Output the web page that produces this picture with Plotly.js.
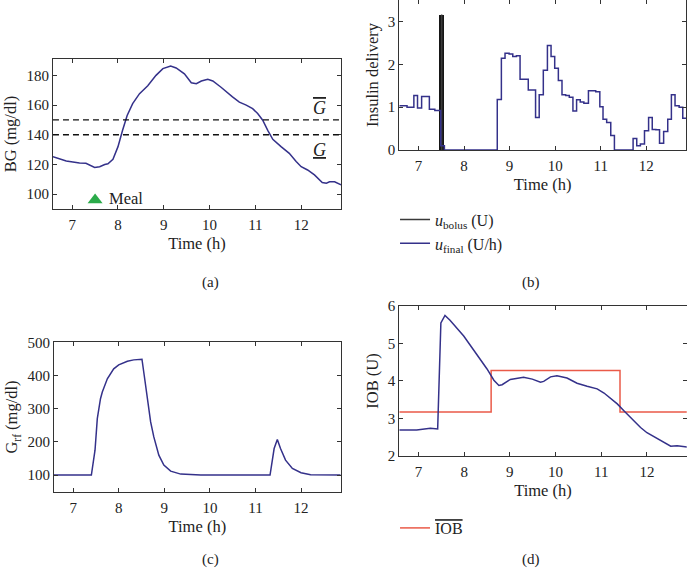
<!DOCTYPE html>
<html>
<head>
<meta charset="utf-8">
<script src="https://cdn.plot.ly/plotly-3.0.1.min.js"></script>
<style>
  body { margin: 0; background: #fff; }
  #plot { width: 687px; height: 568px; }
</style>
</head>
<body>
<div id="plot"></div>
<script>
// (a) blood glucose
var bg_time = [6.58, 6.87, 7.16, 7.3, 7.49, 7.6, 7.71, 7.78, 7.89, 8.0, 8.1, 8.2, 8.32, 8.47, 8.65, 8.83, 8.98, 9.15, 9.27, 9.45, 9.6, 9.71, 9.82, 9.96, 10.07, 10.25, 10.5, 10.65, 10.8, 10.94, 11.05, 11.16, 11.27, 11.38, 11.56, 11.74, 11.89, 12.0, 12.14, 12.29, 12.46, 12.55, 12.62, 12.73, 12.87];
var bg_value = [125.3, 122.3, 121, 120.8, 118, 118.5, 120, 120.5, 123.5, 132, 143, 153, 161, 167.7, 173, 180, 184.5, 186.3, 185, 181, 175, 174.4, 176.2, 177.3, 176.2, 172, 165.5, 162, 160, 157.6, 154.3, 149.8, 143, 136.9, 132, 127.5, 122, 118.5, 116.3, 113, 107.8, 107.4, 108.3, 108.3, 106.3];
var bg_upper = 150;
var bg_lower = 140;
var meal_time = [7.5];
var meal_marker = [96];

// (b) insulin delivery
var bolus_time = [7.51];
var bolus_amount = [3.16];
var ufinal_time = [6.58, 6.75, 6.9, 6.98, 7.07, 7.24, 7.36, 7.49, 7.57, 8.73, 8.82, 8.9, 8.99, 9.07, 9.15, 9.23, 9.41, 9.57, 9.65, 9.74, 9.83, 9.91, 9.99, 10.07, 10.15, 10.23, 10.31, 10.39, 10.47, 10.55, 10.63, 10.73, 10.89, 10.98, 11.05, 11.13, 11.22, 11.3, 11.71, 11.79, 11.87, 11.96, 12.05, 12.13, 12.21, 12.29, 12.38, 12.47, 12.55, 12.63, 12.72, 12.8, 12.88];
var ufinal_value = [1.03, 1.0, 1.27, 0.98, 1.25, 0.95, 0.92, 0.1, 0, 1.18, 2.14, 2.26, 2.24, 2.18, 2.2, 1.65, 1.4, 0.76, 1.29, 1.86, 2.44, 2.18, 1.91, 1.62, 1.29, 1.27, 1.23, 0.91, 1.17, 1.12, 1.09, 1.38, 1.36, 1.01, 0.72, 0.64, 0.34, 0, 0.27, 0.1, 0.14, 0.45, 0.76, 0.48, 0.47, 0.16, 0.43, 0.72, 1.29, 1.03, 1.0, 0.74, 0.74];

// (c) G_rf
var grf_time = [6.58, 7.4, 7.48, 7.53, 7.6, 7.64, 7.75, 7.89, 8.0, 8.19, 8.33, 8.51, 8.56, 8.62, 8.7, 8.77, 8.88, 8.99, 9.14, 9.36, 9.8, 11.32, 11.37, 11.41, 11.48, 11.55, 11.66, 11.81, 12.0, 12.21, 12.87];
var grf_value = [100, 100, 175, 270, 330, 350, 390, 420, 432, 443, 447, 449, 400, 340, 260, 215, 160, 130, 112, 103, 100, 100, 150, 180, 207, 180, 145, 120, 107, 101, 100];

// (d) insulin on board
var iob_time = [6.58, 6.96, 7.26, 7.42, 7.49, 7.58, 7.69, 7.99, 8.28, 8.5, 8.65, 8.76, 8.83, 9.01, 9.3, 9.49, 9.67, 9.74, 9.89, 10.03, 10.25, 10.47, 10.69, 10.91, 11.06, 11.2, 11.35, 11.5, 11.68, 11.86, 12.0, 12.18, 12.37, 12.52, 12.66, 12.81, 12.88];
var iob_value = [2.69, 2.69, 2.74, 2.72, 5.55, 5.75, 5.62, 5.2, 4.7, 4.32, 4.02, 3.88, 3.9, 4.04, 4.1, 4.05, 3.97, 3.99, 4.11, 4.14, 4.08, 3.94, 3.86, 3.79, 3.68, 3.55, 3.39, 3.2, 2.98, 2.76, 2.62, 2.5, 2.36, 2.26, 2.27, 2.26, 2.24];
var iob_bar_time = [6.58, 8.59, 11.41, 12.88];
var iob_bar_value = [3.17, 4.28, 3.17, 3.17];

var tick_vals = [7, 8, 9, 10, 11, 12];
var x_range = [6.58, 12.87];

var serif = "Liberation Serif, DejaVu Serif, serif";
var navy = "#34318a";
var frame = "#333";
var txt = "#222";

function make_x(domain, anchor) {
    return {domain: domain, anchor: anchor, range: x_range, tickvals: tick_vals,
	    ticks: "inside", ticklen: 4, tickcolor: frame, mirror: "ticks", ticklabelstandoff: 2,
	    showline: true, linecolor: frame, linewidth: 1, showgrid: false, zeroline: false,
	    tickfont: {family: serif, size: 15, color: txt},
	    title: {text: "Time (h)", font: {family: serif, size: 16.5, color: txt}, standoff: 5}};
}
function make_y(domain, anchor, range, dtick, title) {
    return {domain: domain, anchor: anchor, range: range, dtick: dtick,
	    ticks: "inside", ticklen: 4, tickcolor: frame, mirror: "ticks",
	    showline: true, linecolor: frame, linewidth: 1, showgrid: false, zeroline: false,
	    tickfont: {family: serif, size: 15, color: txt},
	    title: {text: title, font: {family: serif, size: 16.5, color: txt}, standoff: 5}};
}

var data = [
    {x: bg_time, y: bg_value, xaxis: "x", yaxis: "y", mode: "lines", line: {color: navy, width: 1.5}, showlegend: false},
    {x: meal_time, y: meal_marker, xaxis: "x", yaxis: "y", mode: "markers",
     marker: {symbol: "triangle-up", size: 13, color: "#2bab4a"}, showlegend: false},
    // bolus: the bar itself, and a thin line along its centre that carries the legend entry
    {x: bolus_time, y: bolus_amount, xaxis: "x2", yaxis: "y2", type: "bar", width: 0.105,
     marker: {color: "#161616", line: {width: 0}}, showlegend: false, legendgroup: "bolus"},
    {x: [bolus_time[0], bolus_time[0]], y: [0, bolus_amount[0]], xaxis: "x2", yaxis: "y2", mode: "lines",
     line: {color: "#3a3a3a", width: 1.5}, name: "<i>u</i><sub>bolus</sub> (U)", legend: "legend", legendgroup: "bolus"},
    {x: ufinal_time, y: ufinal_value, xaxis: "x2", yaxis: "y2", mode: "lines", line: {color: navy, width: 1.5, shape: "hv"},
     name: "<i>u</i><sub>final</sub> (U/h)", legend: "legend"},
    {x: grf_time, y: grf_value, xaxis: "x3", yaxis: "y3", mode: "lines", line: {color: navy, width: 1.5}, showlegend: false},
    {x: iob_bar_time, y: iob_bar_value, xaxis: "x4", yaxis: "y4", mode: "lines", line: {color: "#ea5a48", width: 1.5, shape: "hv"},
     name: "<span style='text-decoration:overline'>IOB</span>", legend: "legend2"},
    {x: iob_time, y: iob_value, xaxis: "x4", yaxis: "y4", mode: "lines", line: {color: navy, width: 1.5}, showlegend: false}
];

var layout = {
    width: 687, height: 568,
    margin: {l: 0, r: 0, t: 0, b: 0},
    paper_bgcolor: "#fff", plot_bgcolor: "#fff",
    font: {family: serif, size: 15, color: txt},
    bargap: 0,
    xaxis: make_x([0.0771, 0.4964], "y"),
    yaxis: make_y([0.632, 0.8961], "x", [90, 191], 20, "BG (mg/dl)"),
    xaxis2: make_x([0.5812, 0.9985], "y2"),
    yaxis2: make_y([0.7359, 1.0], "x2", [0, 3.5], 1, "Insulin delivery"),
    xaxis3: make_x([0.0786, 0.4959], "y3"),
    yaxis3: make_y([0.1343, 0.3974], "x3", [50, 500], 100, "G<sub>rf</sub> (mg/dl)"),
    xaxis4: make_x([0.5812, 0.9996], "y4"),
    yaxis4: make_y([0.1972, 0.4613], "x4", [2, 6], 1, "IOB (U)"),
    legend: {x: 0.575, y: 0.6433, xanchor: "left", yanchor: "top", bgcolor: "rgba(0,0,0,0)",
	     font: {family: serif, size: 16, color: txt}, itemwidth: 30, tracegroupgap: 0},
    legend2: {x: 0.575, y: 1 - 528 / 568, xanchor: "left", yanchor: "middle", bgcolor: "rgba(0,0,0,0)",
	      font: {family: serif, size: 16, color: txt}, itemwidth: 30},
    shapes: [
	{type: "line", xref: "x domain", yref: "y", x0: 0, x1: 1, y0: bg_upper, y1: bg_upper,
	 line: {color: "#111", width: 1.3, dash: "6px,4px"}},
	{type: "line", xref: "x domain", yref: "y", x0: 0, x1: 1, y0: bg_lower, y1: bg_lower,
	 line: {color: "#111", width: 1.3, dash: "6px,4px"}}
    ],
    annotations: [
	{x: 12.4, y: 158, xref: "x", yref: "y", text: "<i><span style='text-decoration:overline'>G</span></i>",
	 showarrow: false, font: {family: serif, size: 18, color: txt}},
	{x: 12.4, y: 130, xref: "x", yref: "y", text: "<i><span style='text-decoration:underline'>G</span></i>",
	 showarrow: false, font: {family: serif, size: 18, color: txt}},
	{x: 7.76, y: 97, xref: "x", yref: "y", xanchor: "left", text: "Meal",
	 showarrow: false, font: {family: serif, size: 16.5, color: txt}},
	{x: 0.2917, y: 1 - 283 / 568, xref: "paper", yref: "paper", yanchor: "middle", text: "(a)", showarrow: false,
	 font: {family: serif, size: 15, color: txt}},
	{x: 0.7894, y: 1 - 283 / 568, xref: "paper", yref: "paper", yanchor: "middle", text: "(b)", showarrow: false,
	 font: {family: serif, size: 15, color: txt}},
	{x: 0.2917, y: 1 - 559 / 568, xref: "paper", yref: "paper", yanchor: "middle", text: "(c)", showarrow: false,
	 font: {family: serif, size: 15, color: txt}},
	{x: 0.7894, y: 1 - 559 / 568, xref: "paper", yref: "paper", yanchor: "middle", text: "(d)", showarrow: false,
	 font: {family: serif, size: 15, color: txt}}
    ]
};

Plotly.newPlot("plot", data, layout, {displayModeBar: false, staticPlot: true});
</script>
</body>
</html>
